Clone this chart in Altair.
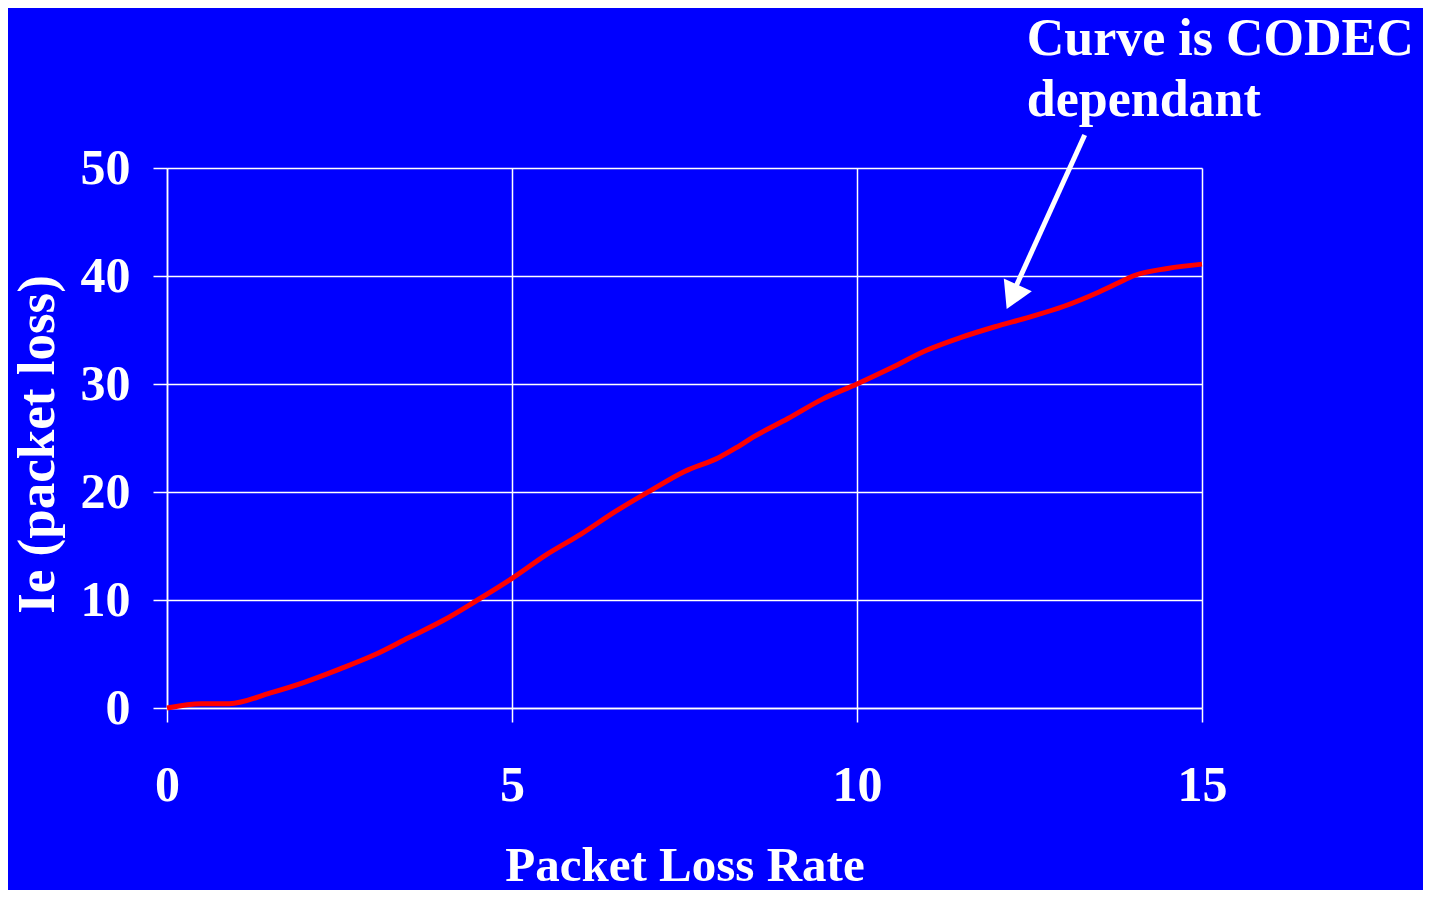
import altair as alt
import pandas as pd

# Packet loss rate (%) vs Ie (packet loss impairment)
loss_rate = [0, 0.5, 0.9, 1.5, 2, 2.5, 3, 3.5, 4, 4.5, 5, 5.5, 6, 6.5, 7, 7.5, 8,
             8.25, 8.5, 9, 9.5, 10, 10.5, 11, 11.5, 12, 12.5, 13, 13.5, 13.8, 14, 14.5, 15]
ie_values = [0, 0.4, 0.4, 1.4, 2.4, 3.6, 4.9, 6.5, 8.1, 10.0, 12.0, 14.2, 16.1, 18.2, 20.1,
             21.9, 23.2, 24.1, 25.1, 26.8, 28.6, 30.0, 31.5, 33.1, 34.3, 35.3, 36.2, 37.2,
             38.5, 39.4, 40.0, 40.7, 41.1]

x_ticks = [0, 5, 10, 15]
y_ticks = [0, 10, 20, 30, 40, 50]

note_lines = ["Curve is CODEC", "dependant"]
note_x = [12.46, 12.46]
note_y = [60.5, 54.8]

arrow_start = (13.30, 53.06)
arrow_end = (12.30, 38.98)
arrow_head = (12.25, 38.06)

FONT = "Liberation Serif"

df = pd.DataFrame({"x": loss_rate, "y": ie_values})

xscale = alt.Scale(domain=[0, 15], nice=False, zero=False)
yscale = alt.Scale(domain=[0, 50], nice=False, zero=False)

line = alt.Chart(df).mark_line(color="#FF0000", strokeWidth=5, interpolate="monotone").encode(
    x=alt.X("x:Q", scale=xscale,
            axis=alt.Axis(values=x_ticks, title="Packet Loss Rate", labelBaseline="alphabetic",
                          labelPadding=78, labelFlush=False, titleBaseline="alphabetic",
                          titleY=172, titleFontSize=49, format="d")),
    y=alt.Y("y:Q", scale=yscale,
            axis=alt.Axis(values=y_ticks, title="Ie (packet loss)", labelPadding=23,
                          labelFlush=False,
                          titleAngle=270, titleBaseline="alphabetic", titleAlign="center",
                          titleX=-114, titleY=276, titleFontSize=53, format="d")),
)

note_df = pd.DataFrame({"x": note_x, "y": note_y, "t": note_lines})
note = alt.Chart(note_df).mark_text(
    align="left", baseline="alphabetic", font=FONT, fontWeight="bold",
    fontSize=52, color="white"
).encode(x=alt.X("x:Q", scale=xscale), y=alt.Y("y:Q", scale=yscale), text="t:N")

arrow_df = pd.DataFrame({"x": [arrow_start[0]], "y": [arrow_start[1]],
                         "x2": [arrow_end[0]], "y2": [arrow_end[1]]})
arrow = alt.Chart(arrow_df).mark_rule(color="white", strokeWidth=5).encode(
    x=alt.X("x:Q", scale=xscale), y=alt.Y("y:Q", scale=yscale), x2="x2:Q", y2="y2:Q")

head_df = pd.DataFrame({"x": [arrow_head[0]], "y": [arrow_head[1]]})
head = alt.Chart(head_df).mark_point(
    shape="triangle-up", size=950, filled=True, color="white", opacity=1, angle=204.6,
    strokeWidth=0
).encode(x=alt.X("x:Q", scale=xscale), y=alt.Y("y:Q", scale=yscale))

chart = alt.layer(line, arrow, head, note).properties(
    width=1035, height=540,
    autosize=alt.AutoSizeParams(type="none"),
    padding={"left": 159, "top": 160, "right": 221, "bottom": 182},
    background="#0000FF",
).configure_view(strokeWidth=0).configure_axis(
    grid=True, gridColor="white", gridWidth=1.5, gridOpacity=1,
    domainColor="white", domainWidth=1.5,
    tickColor="white", tickWidth=1.5, tickSize=14,
    labelColor="white", labelFont=FONT, labelFontWeight="bold", labelFontSize=50,
    titleColor="white", titleFont=FONT, titleFontWeight="bold",
)

chart.save("out.html", embed_options={"renderer": "svg", "actions": False})
